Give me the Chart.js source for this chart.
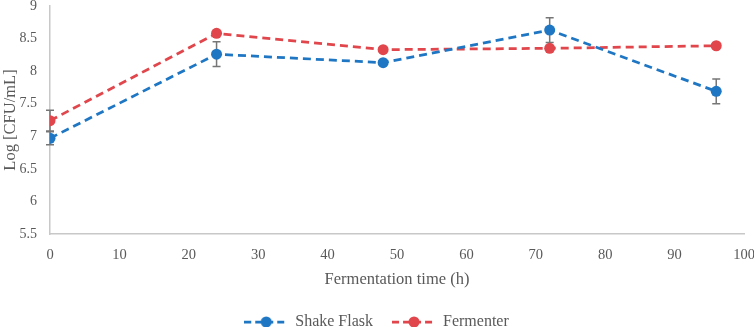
<!DOCTYPE html>
<html>
<head>
<meta charset="utf-8">
<script src="https://cdn.jsdelivr.net/npm/chart.js@4/dist/chart.umd.min.js"></script>
<style>
  html, body { margin: 0; padding: 0; background: #fff; }
  #wrap { width: 754px; height: 327px; }
</style>
</head>
<body>
<div id="wrap"><canvas id="growth"></canvas></div>
<script>
// sampling times (h)
const times = [0, 24, 48, 72, 96];

// Log [CFU/mL]
const shakeFlask = [6.97, 8.26, 8.13, 8.63, 7.69];
const shakeFlaskErr = [0.1, 0.19, 0, 0.19, 0.19];
const fermenter = [7.24, 8.58, 8.33, 8.35, 8.39];
const fermenterErr = [0.16, 0, 0, 0, 0];

const blue = '#1f77c4';
const red = '#e0464b';
const grey = '#595959';
const font = "'Liberation Serif', serif";

// little dashed-line-with-dot image for the legend
function legendSymbol(color) {
  const c = document.createElement('canvas');
  c.width = 44; c.height = 14;
  const g = c.getContext('2d');
  g.strokeStyle = color;
  g.lineWidth = 2.75;
  g.setLineDash([7, 4]);
  g.beginPath();
  g.moveTo(0, 7);
  g.lineTo(44, 7);
  g.stroke();
  g.fillStyle = color;
  g.beginPath();
  g.arc(22, 7, 5.5, 0, Math.PI * 2);
  g.fill();
  return c;
}

const errorBars = {
  id: 'errorBars',
  beforeDatasetsDraw(chart) {
    const { ctx, scales: { x, y } } = chart;
    const errs = [shakeFlaskErr, fermenterErr];
    ctx.save();
    ctx.strokeStyle = '#767676';
    ctx.lineWidth = 1.5;
    chart.data.datasets.forEach((ds, i) => {
      ds.data.forEach((p, j) => {
        const e = errs[i][j];
        if (!e) return;
        const px = x.getPixelForValue(p.x);
        const top = y.getPixelForValue(p.y + e);
        const bot = y.getPixelForValue(p.y - e);
        ctx.beginPath();
        ctx.moveTo(px, top); ctx.lineTo(px, bot);
        ctx.moveTo(px - 4, top); ctx.lineTo(px + 4, top);
        ctx.moveTo(px - 4, bot); ctx.lineTo(px + 4, bot);
        ctx.stroke();
      });
    });
    ctx.restore();
  }
};

function series(label, values, color) {
  return {
    label: label,
    data: times.map((t, i) => ({ x: t, y: values[i] })),
    borderColor: color,
    backgroundColor: color,
    borderWidth: 2.75,
    borderDash: [8, 5],
    pointStyle: 'circle',
    pointRadius: 5.5,
    pointHoverRadius: 5.5,
    pointBorderWidth: 0,
    tension: 0
  };
}

const ctx = document.getElementById('growth').getContext('2d');
new Chart(ctx, {
  type: 'line',
  data: {
    datasets: [
      series('Shake Flask', shakeFlask, blue),
      series('Fermenter', fermenter, red)
    ]
  },
  options: {
    responsive: true,
    maintainAspectRatio: false,
    animation: false,
    layout: { padding: 0 },
    scales: {
      x: {
        type: 'linear',
        min: 0, max: 100,
        ticks: { stepSize: 10, color: grey, font: { family: font, size: 14.5 }, padding: 12 },
        grid: { display: false, drawTicks: false },
        border: { display: true, color: '#c8c8c8', width: 1.5 },
        title: { display: true, text: 'Fermentation time (h)', color: grey, font: { family: font, size: 16.5 }, padding: { top: 4, bottom: 4 } },
        afterFit(scale) { scale.height = 60; scale.paddingRight = 10; }
      },
      y: {
        min: 5.5, max: 9,
        ticks: {
          stepSize: 0.5, color: grey, font: { family: font, size: 14 }, padding: 13,
          callback: (v) => String(Math.round(v * 10) / 10)
        },
        grid: { display: false, drawTicks: false },
        border: { display: true, color: '#c8c8c8', width: 1.5 },
        title: { display: true, text: 'Log [CFU/mL]', color: grey, font: { family: font, size: 16.5 }, padding: { top: 1, bottom: 0 } },
        afterFit(scale) { scale.width = 50; scale.paddingTop = 6; }
      }
    },
    plugins: {
      legend: {
        position: 'bottom',
        maxHeight: 33,
        labels: {
          usePointStyle: true,
          pointStyleWidth: 42,
          boxHeight: 14,
          color: grey,
          font: { family: font, size: 16 },
          padding: 20,
          generateLabels(chart) {
            return chart.data.datasets.map((ds, i) => ({
              text: ds.label,
              pointStyle: legendSymbol(ds.borderColor),
              fillStyle: ds.borderColor,
              strokeStyle: ds.borderColor,
              lineWidth: 0,
              fontColor: grey,
              datasetIndex: i,
              hidden: false
            }));
          }
        }
      },
      tooltip: { enabled: false }
    }
  },
  plugins: [errorBars]
});
</script>
</body>
</html>
